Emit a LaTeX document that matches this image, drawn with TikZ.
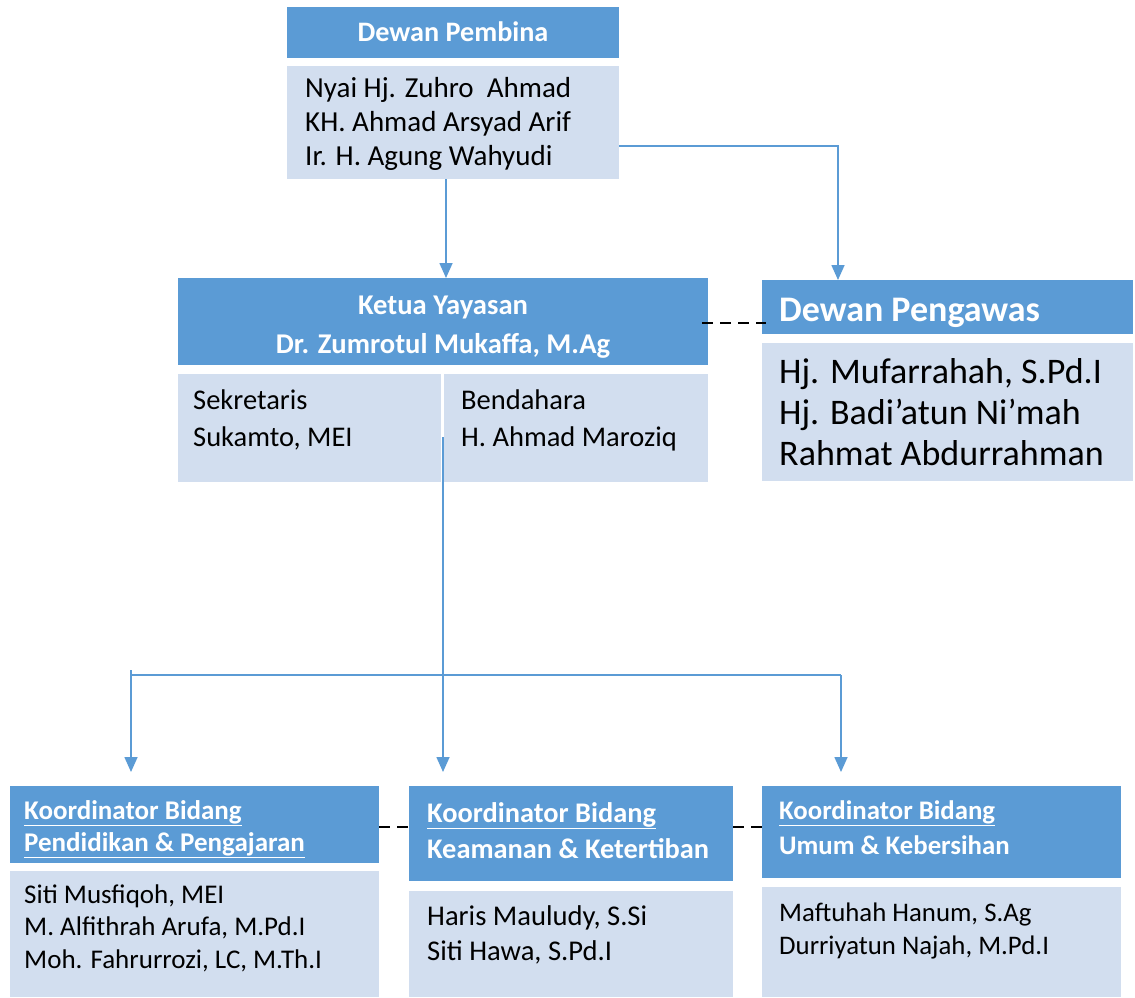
\documentclass[tikz,border=0pt]{standalone}
\usepackage{fontspec}
\setmainfont{Carlito}
\usetikzlibrary{arrows.meta}
\definecolor{hdr}{HTML}{5B9BD5}
\definecolor{bdy}{HTML}{D2DEEF}
\newcommand\leftstack[1]{\vtop{\halign{##\hfil\cr#1\crcr}}}
\newcommand\midstack[1]{\vtop{\halign{\hfil##\hfil\cr#1\crcr}}}
\newcommand\fs[2]{\fontsize{#1}{#2}\selectfont}
\newcommand\ul[1]{\underline{#1}}
\tikzset{
  hbox/.style={fill=hdr, draw=none, inner sep=0pt, anchor=north west},
  bbox/.style={fill=bdy, draw=none, inner sep=0pt, anchor=north west},
  txt/.style={inner sep=0pt, anchor=base west, text=black},
  htxt/.style={inner sep=0pt, text=white, font=\bfseries},
  conn/.style={draw=hdr, line width=1.6pt},
  arr/.style={conn, -{Triangle[width=13pt,length=15pt]}},
  dashline/.style={draw=black, line width=2.4pt, dash pattern=on 11pt off 7pt}
}
\begin{document}
\begin{tikzpicture}[x=1pt,y=-1pt]
\useasboundingbox (0,0) rectangle (1135,997);
% ---------- boxes
\node[hbox, minimum width=332pt, minimum height=51pt] (pembH) at (287,7) {};
\node[bbox, minimum width=332pt, minimum height=113pt] (pembB) at (287,66) {};
\node[hbox, minimum width=530pt, minimum height=87pt] (ketuaH) at (178,278) {};
\node[bbox, minimum width=263pt, minimum height=108pt] (sekB) at (178,374) {};
\node[bbox, minimum width=264pt, minimum height=108pt] (benB) at (444,374) {};
\node[hbox, minimum width=371pt, minimum height=54pt] (pengH) at (762,280) {};
\node[bbox, minimum width=371pt, minimum height=138pt] (pengB) at (762,343) {};
\node[hbox, minimum width=369pt, minimum height=77pt] (k1H) at (10,786) {};
\node[bbox, minimum width=369pt, minimum height=126pt] (k1B) at (10,871) {};
\node[hbox, minimum width=324pt, minimum height=95pt] (k2H) at (409,786) {};
\node[bbox, minimum width=324pt, minimum height=106pt] (k2B) at (409,891) {};
\node[hbox, minimum width=359pt, minimum height=92pt] (k3H) at (762,786) {};
\node[bbox, minimum width=359pt, minimum height=110pt] (k3B) at (762,887) {};
% ---------- texts
\node[htxt, anchor=base] (pembT) at (453,41) {\fs{28.2}{34}Dewan Pembina};
\node[txt] (pembL) at (305,97) {\fs{29}{34}\leftstack{Nyai Hj. Zuhro\ \ Ahmad\cr KH. Ahmad Arsyad Arif\cr Ir. H. Agung Wahyudi}};
\node[htxt, anchor=base] (ketuaT) at (443,314) {\fs{28.6}{39}\midstack{Ketua Yayasan\cr Dr. Zumrotul Mukaffa, M.Ag}};
\node[txt] (sekT) at (193,409) {\fs{28.5}{37}\leftstack{Sekretaris\cr Sukamto, MEI}};
\node[txt] (benT) at (461,409) {\fs{28.5}{37}\leftstack{Bendahara\cr H. Ahmad Maroziq}};
\node[htxt, anchor=base west] (pengT) at (779,321) {\fs{36}{40}Dewan Pengawas};
\node[txt] (pengL) at (779,383) {\fs{36}{41}\leftstack{Hj. Mufarrahah, S.Pd.I\cr Hj. Badi’atun Ni’mah\cr Rahmat Abdurrahman}};
\node[htxt, anchor=base west] (k1T) at (24,819) {\fs{27}{32}\leftstack{\ul{Koordinator Bidang}\cr \ul{Pendidikan \& Pengajaran}}};
\node[txt] (k1L) at (24,903) {\fs{27}{32.5}\leftstack{Siti Musfiqoh, MEI\cr M. Alfithrah Arufa, M.Pd.I\cr Moh. Fahrurrozi, LC, M.Th.I}};
\node[htxt, anchor=base west] (k2T) at (427,822) {\fs{28.4}{36}\leftstack{\ul{Koordinator Bidang}\cr Keamanan \& Ketertiban}};
\node[txt] (k2L) at (427,925) {\fs{28.6}{35}\leftstack{Haris Mauludy, S.Si\cr Siti Hawa, S.Pd.I}};
\node[htxt, anchor=base west] (k3T) at (779,819) {\fs{26.8}{35}\leftstack{\ul{Koordinator Bidang}\cr Umum \& Kebersihan}};
\node[txt] (k3L) at (779,921) {\fs{26.8}{33}\leftstack{Maftuhah Hanum, S.Ag\cr Durriyatun Najah, M.Pd.I}};
% ---------- connectors
\coordinate (c1) at (838,146);
\coordinate (c0) at (446,0);
\coordinate (split) at (443,437);
\coordinate (barL) at (131,675);
\coordinate (barR) at (841,675);
\coordinate (dy) at (0,827);
\coordinate (dtop) at (0,323);
\draw[arr] (c0 |- pembB.south) -- (c0 |- ketuaH.north);
\draw[arr] (pembB.east |- c1) -| (pengH.north -| c1);
\draw[arr, shorten >=14pt] (split) -- (split |- k2H.north);
\draw[conn] (barL) -- (barR);
\draw[arr, shorten >=14pt] ([yshift=5pt]barL) -- (barL |- k1H.north);
\draw[arr, shorten >=14pt] (barR) -- (barR |- k3H.north);
\draw[dashline] ([xshift=-6pt]ketuaH.east |- dtop) -- ([xshift=4pt]pengH.west |- dtop);
\draw[dashline] (k1H.east |- dy) -- (k2H.west |- dy);
\draw[dashline] (k2H.east |- dy) -- (k3H.west |- dy);
\end{tikzpicture}
\end{document}
